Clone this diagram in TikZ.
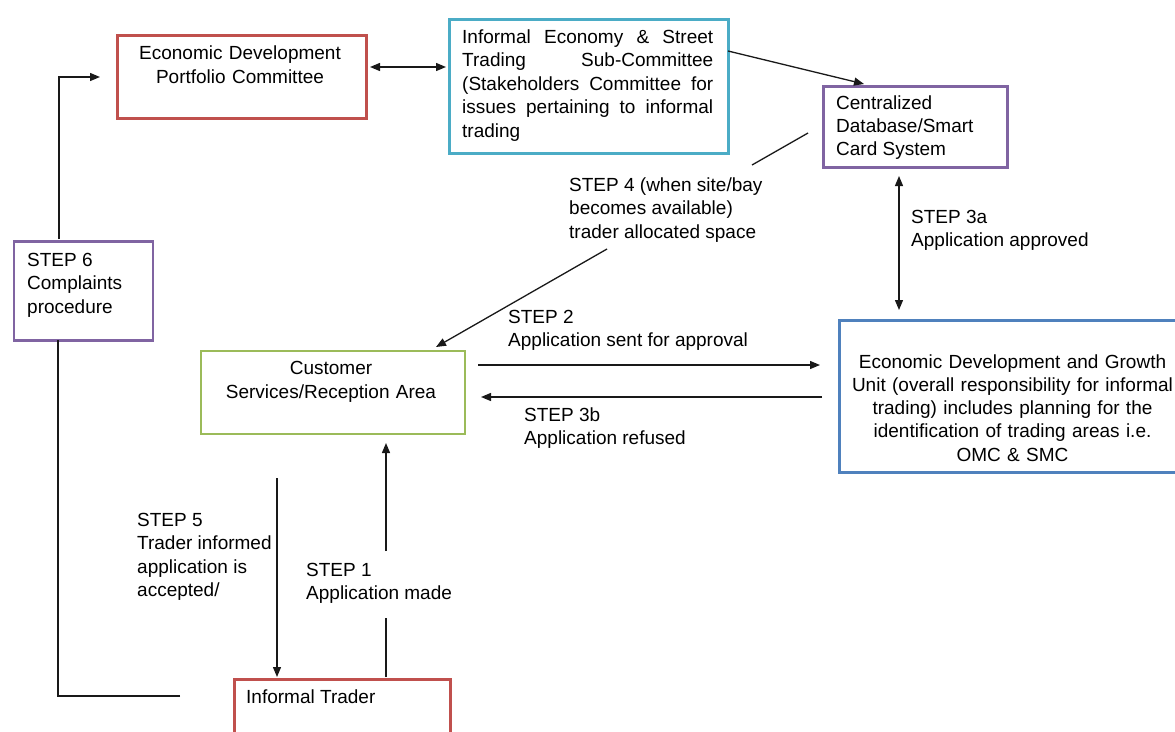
\documentclass[tikz,border=0pt]{standalone}
\usepackage{fontspec}
\setmainfont{Liberation Sans}
\usetikzlibrary{arrows.meta}
\definecolor{cred}{HTML}{C0504D}
\definecolor{ccyan}{HTML}{4BACC6}
\definecolor{cpurple}{HTML}{8064A2}
\definecolor{cgreen}{HTML}{9BBB59}
\definecolor{cblue}{HTML}{4F81BD}
\newcommand\fst{\rule{0pt}{16pt}}
\begin{document}
\begin{tikzpicture}[x=1pt,y=-1pt,
  box/.style={draw, line width=2.6pt, inner sep=0pt, anchor=north west},
  txt/.style={inner sep=0pt, font=\fontsize{19}{23.5}\selectfont, align=left, anchor=north west},
  ctxt/.style={inner sep=0pt, font=\fontsize{19}{24.5}\selectfont, align=center, anchor=north},
  conn/.style={line width=1.3pt, black!90},
  arr/.style={conn, -{Triangle[length=10pt,width=8pt]}},
  darr/.style={conn, {Triangle[length=10pt,width=8pt]}-{Triangle[length=10pt,width=8pt]}},
]
\useasboundingbox (0,0) rectangle (1175,731);
\clip (0,0) rectangle (1175,731);
\fill[white] (0,0) rectangle (1175,731);

% boxes
\node[box, draw=cred, minimum width=249pt, minimum height=83pt] (edpc) at (116,34) {};
\node[box, draw=ccyan, minimum width=279pt, minimum height=134pt] (iest) at (448,18) {};
\node[box, draw=cpurple, minimum width=184pt, minimum height=81pt] (cdb) at (822,85) {};
\node[box, draw=cpurple, minimum width=139pt, minimum height=99pt] (s6) at (12.5,240) {};
\node[box, draw=cgreen, minimum width=264pt, minimum height=83pt] (cust) at (199.5,349.5) {};
\node[box, draw=cblue, minimum width=360pt, minimum height=152pt] (edgu) at (838,319) {};
\node[box, draw=cred, minimum width=216pt, minimum height=80pt] (it) at (233,678) {};

% texts
\node[ctxt, text width=240pt] (edpcT) at (240,43) {\fst Economic Development\\Portfolio Committee};
\node[txt, text width=251pt, align=justify] (iestT) at (462,27) {\tolerance=10000 \hbadness=10000 \fst Informal Economy \& Street\linebreak Trading Sub-Committee\linebreak (Stakeholders Committee for\linebreak issues pertaining to informal\linebreak trading};
\node[txt, font=\fontsize{19}{23}\selectfont] (cdbT) at (836,93) {\fst Centralized\\Database/Smart\\Card System};
\node[txt] (s6T) at (27,250) {\fst STEP 6\\Complaints\\procedure};
\node[ctxt, text width=260pt] (custT) at (331,358) {\fst Customer\\Services/Reception Area};
\node[ctxt, text width=330pt, font=\fontsize{19}{23.2}\selectfont] (edguT) at (1012.5,352) {\fst Economic Development and Growth\\Unit (overall responsibility for informal\\trading) includes planning for the\\identification of trading areas i.e.\\OMC \& SMC};
\node[txt] (itT) at (246,687) {\fst Informal Trader};
\node[txt] (l4) at (569,175) {\fst STEP 4 (when site/bay\\becomes available)\\trader allocated space};
\node[txt] (l3a) at (911,207) {\fst STEP 3a\\Application approved};
\node[txt] (l2) at (508,307) {\fst STEP 2\\Application sent for approval};
\node[txt] (l3b) at (524,405) {\fst STEP 3b\\Application refused};
\node[txt] (l1) at (306,560) {\fst STEP 1\\Application made};
\node[txt] (l5) at (137,510) {\fst STEP 5\\Trader informed\\application is\\accepted/};

% connector end points
\coordinate (a1) at (370,67);
\coordinate (a2) at (446,67);
\coordinate (b1) at (728,51);
\coordinate (b2) at (864,84);
\coordinate (s4a) at (808,133);
\coordinate (s4b) at (752,165);
\coordinate (s4c) at (607,249);
\coordinate (s4d) at (436,347);
\coordinate (c1) at (899,176);
\coordinate (c2) at (899,310);
\coordinate (d1) at (478,365);
\coordinate (d2) at (820,365);
\coordinate (e1) at (822,397);
\coordinate (e2) at (481,397);
\coordinate (f1) at (386,677);
\coordinate (f2) at (386,618);
\coordinate (f3) at (386,551);
\coordinate (f4) at (386,443);
\coordinate (g1) at (277,478);
\coordinate (g2) at (277,677);
\coordinate (h1) at (180,696);
\coordinate (h2) at (58,696);
\coordinate (h3) at (58,340);
\coordinate (k1) at (59,239);
\coordinate (k2) at (59,77);
\coordinate (k3) at (100,77);

% connectors
\draw[darr] (a1) -- (a2);
\draw[arr] (b1) -- (b2);
\draw[conn] (s4a) -- (s4b);
\draw[arr] (s4c) -- (s4d);
\draw[darr] (c1) -- (c2);
\draw[arr] (d1) -- (d2);
\draw[arr] (e1) -- (e2);
\draw[conn] (f1) -- (f2);
\draw[arr] (f3) -- (f4);
\draw[arr] (g1) -- (g2);
\draw[conn] (h1) -- (h2) -- (h3);
\draw[arr] (k1) -- (k2) -- (k3);
\end{tikzpicture}
\end{document}
